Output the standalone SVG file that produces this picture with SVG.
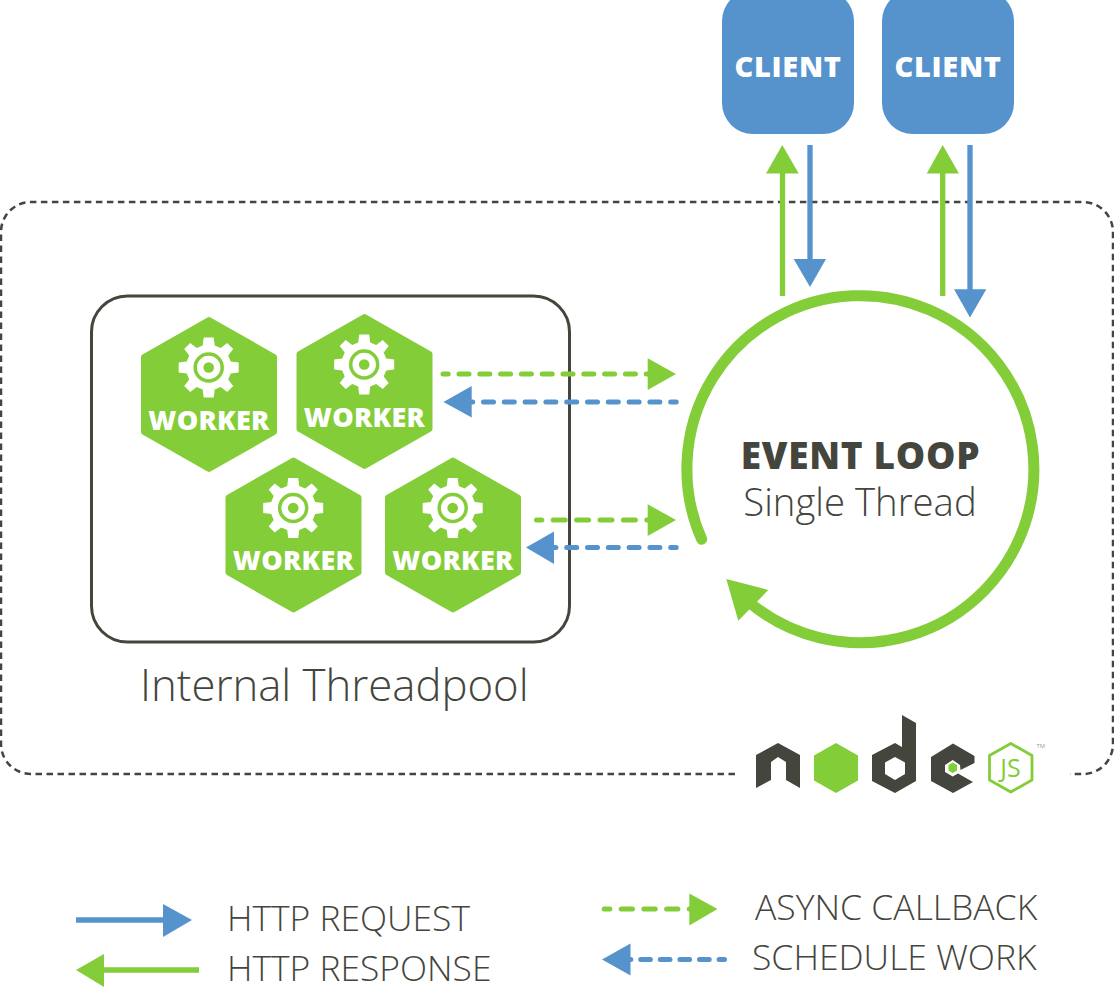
<svg xmlns="http://www.w3.org/2000/svg" xmlns:xlink="http://www.w3.org/1999/xlink" width="1114" height="987" viewBox="0 0 1114 987">
<style>
text{font-family:"Open Sans","Liberation Sans",sans-serif;fill:#44453c}
.l{font-weight:300}
.b{font-weight:800;letter-spacing:.7px}
.w{fill:#fff;font-weight:800;text-anchor:middle}
.g{stroke:#83cd39;fill:none}
.u{stroke:#5693cd;fill:none}
.sg{fill:#83cd39}
.su{fill:#5693cd}
.s{stroke-width:5.300}
.d{stroke-width:5;stroke-linecap:round}
</style>
<defs>
<g id="hex">
<polygon points="0,-74.500 65,-37.500 65,37.500 0,74.500 -65,37.500 -65,-37.500" fill="#83cd39" stroke="#83cd39" stroke-width="6" stroke-linejoin="round"/>
<g transform="translate(-0.300,-27)">
<path fill="#fff" d="M-5,-30H5L6,-22L12,-19.500L18.500,-24.500L24.500,-18.500L19.500,-12L22,-6L30,-5V5L22,6L19.500,12L24.500,18.500L18.500,24.500L12,19.500L6,22L5,30H-5L-6,22L-12,19.500L-18.500,24.500L-24.500,18.500L-19.500,12L-22,6L-30,5V-5L-22,-6L-19.500,-12L-24.500,-18.500L-18.500,-24.500L-12,-19.500L-6,-22Z"/>
<circle r="13.500" fill="none" stroke="#83cd39" stroke-width="3.500"/>
<circle r="5.300" fill="#83cd39"/>
</g>
<text class="w" y="35.200" font-size="27" letter-spacing=".3">WORKER</text>
</g>
</defs>

<g id="boundary">
<path d="M735,774H31A30,30 0 0 1 1,744V232A30,30 0 0 1 31,202H1083A30,30 0 0 1 1113,232V744A30,30 0 0 1 1083,774H1070" fill="none" stroke="#44453c" stroke-width="2.500" stroke-dasharray="6.500 4.500"/>
</g>
<g id="threadpool">
<rect x="91.500" y="296" width="478" height="346" rx="36" fill="none" stroke="#44453c" stroke-width="3"/>
<text class="l" x="140" y="701" font-size="43.700">Internal Threadpool</text>
</g>
<g id="worker-1"><use xlink:href="#hex" href="#hex" x="209" y="394.500"/></g>
<g id="worker-2"><use xlink:href="#hex" href="#hex" x="364.500" y="391.500"/></g>
<g id="worker-3"><use xlink:href="#hex" href="#hex" x="293.500" y="535"/></g>
<g id="worker-4"><use xlink:href="#hex" href="#hex" x="453" y="535"/></g>

<g id="client-1">
<rect x="722" y="-10" width="132" height="144" rx="31" fill="#5693cd"/>
<text class="w" x="788" y="76.500" font-size="29" letter-spacing=".7">CLIENT</text>
</g>
<g id="client-2">
<rect x="882" y="-10" width="132" height="144" rx="31" fill="#5693cd"/>
<text class="w" x="948" y="76.500" font-size="29" letter-spacing=".7">CLIENT</text>
</g>

<g id="event-loop">
<path class="g" d="M701.700,539.300A173.500,173.500 0 1 1 750,603" stroke-width="11" stroke-linecap="round"/>
<polygon class="sg" points="726.300,579 768.300,590 738.300,620.700"/>
<text class="b" x="860.500" y="468.500" font-size="37" text-anchor="middle">EVENT LOOP</text>
<text class="l" x="860" y="516" font-size="38.300" text-anchor="middle">Single Thread</text>
</g>

<g id="connectors">
<path class="g s" d="M782.500,296V170"/><polygon class="sg" points="782.300,145 798.700,173.500 766,173.500"/>
<path class="u s" d="M810,145V262"/><polygon class="su" points="810,287 793.700,259 826,259"/>
<path class="g s" d="M942.700,296V170"/><polygon class="sg" points="942.700,145 959,173.500 926.700,173.500"/>
<path class="u s" d="M970,145V292"/><polygon class="su" points="970,317.500 954,289.300 986.300,289.300"/>
<path class="g d" d="M443,374H650" stroke-dasharray="10 10.800" stroke-dashoffset="4.800"/><polygon class="sg" points="676,374 647.700,358.300 647.700,390"/>
<path class="u d" d="M676.200,402H470" stroke-dasharray="10 10.800" stroke-dashoffset="4.500"/><polygon class="su" points="443.500,402 471.700,386 471.700,417.500"/>
<path class="g d" d="M536.500,520H650" stroke-dasharray="12 11.400" stroke-dashoffset="6.700"/><polygon class="sg" points="676,520 647.700,504.300 647.700,536"/>
<path class="u d" d="M676.200,547.500H552" stroke-dasharray="10 10.800" stroke-dashoffset="4.500"/><polygon class="su" points="526,547.500 554,531.500 554,564"/>
</g>

<g id="nodejs-logo">
<polygon fill="#44453c" points="756,755 778,743 800,755 800,788 786,780 786,762 778,757 771,762 771,780 756,788"/>
<polygon fill="#83cd39" points="836,743 858,755.500 858,780.500 836,793 814,780.500 814,755.500"/>
<path fill="#44453c" fill-rule="evenodd" d="M902,715L916,723V781L895,793L872,781V755L895,743L902,747ZM895,757L885,762.500V774L895,780L905,774V762.500Z"/>
<polygon fill="#44453c" points="931,757 953,743.500 974.500,756 974.500,763 960.500,770 960,765 952.700,760 945,765 945,772 952.700,776.500 958,773.500 973,782 953,793 931,781"/>
<polygon fill="#83cd39" points="952.700,762.500 957,765 957,770.500 952.700,773 948.500,770.500 948.500,765"/>
<polygon points="1010.800,743.500 1032,755.500 1032,780 1010.800,792 989.500,780 989.500,755.500" fill="none" stroke="#83cd39" stroke-width="2.800" stroke-linejoin="round"/>
<text x="1010.500" y="777" font-size="25" text-anchor="middle" style="fill:#83cd39">JS</text>
<text x="1036.500" y="747.500" font-size="6" style="fill:#9aa090">TM</text>
</g>

<g id="legend">
<path class="u s" d="M76,920H165"/><polygon class="su" points="192,920 163,904 163,937"/>
<text class="l" x="227" y="931" font-size="35.400">HTTP REQUEST</text>
<path class="g s" d="M199,970H100"/><polygon class="sg" points="76,970 104,954 104,987"/>
<text class="l" x="227" y="981" font-size="35.400">HTTP RESPONSE</text>
<path class="g d" d="M604.200,909H692" stroke-dasharray="11.300 11.400" stroke-dashoffset="5.700"/><polygon class="sg" points="717.500,909 689.300,893.500 689.300,925.500"/>
<text class="l" x="755" y="920" font-size="35.500">ASYNC CALLBACK</text>
<path class="u d" d="M724.500,959.500H630" stroke-dasharray="9.700 9.900" stroke-dashoffset="4.300"/><polygon class="su" points="602,959.500 630.500,943.500 630.500,975.500"/>
<text class="l" x="752" y="970" font-size="35.500">SCHEDULE WORK</text>
</g>
</svg>
